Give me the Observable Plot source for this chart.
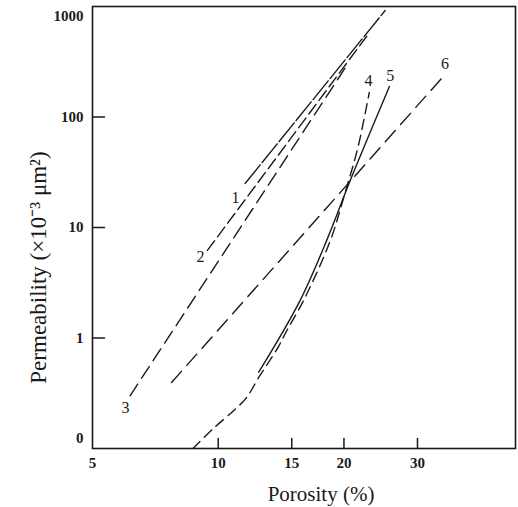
<!DOCTYPE html>
<html><head><meta charset="utf-8">
<script src="https://cdn.jsdelivr.net/npm/d3@7"></script>
<script src="https://cdn.jsdelivr.net/npm/@observablehq/plot@0.6"></script>
<style>body{margin:0;background:#fff} svg{display:block}</style>
</head><body><div id="chart"></div>
<script>
// Curve data: porosity (%) and permeability (x10^-3 um^2)
const porosity1 = [11.6, 25.1];
const permeability1 = [25, 920];
const porosity2 = [9.42, 22.75];
const permeability2 = [6.2, 547];
const porosity3 = [6.15, 20.1];
const permeability3 = [0.30, 275];
const porosity4 = [8.7, 9.74, 10.9, 11.7, 12.5, 13.9, 14.6, 16.0, 18.55, 20.1, 21.6, 23.0];
const permeability4 = [0.1, 0.152, 0.221, 0.29, 0.44, 0.82, 1.17, 2.18, 7.6, 20.3, 53, 167];
const porosity5 = [12.5, 15.7, 18.3, 20.7, 25.7];
const permeability5 = [0.49, 2.18, 8.1, 26.6, 189];
const porosity6 = [7.73, 34.9];
const permeability6 = [0.395, 242];

// Curve labels
const labelIds = ["1", "2", "3", "4", "5", "6"];
const labelPorosity = [11.0, 9.07, 6.0, 22.9, 25.8, 34.9];
const labelPermeability = [18.7, 5.47, 0.235, 214, 237, 305];

// Axis ticks
const xTicks = [5, 10, 15, 20, 30];
const xTickMarks = [10, 15, 20, 30];
const yTicks = [1, 10, 100];
const yBottomLabel = ["0"];
const yTopLabel = ["1000"];

const series = [
  {id: "1", x: porosity1, y: permeability1},
  {id: "2", x: porosity2, y: permeability2},
  {id: "3", x: porosity3, y: permeability3},
  {id: "4", x: porosity4, y: permeability4},
  {id: "5", x: porosity5, y: permeability5},
  {id: "6", x: porosity6, y: permeability6}
];
const dash = {"1": "24,3", "2": "12,5", "3": "14,7", "4": "10,6", "5": null, "6": "15,8"};
const rows = series.flatMap(s => s.x.map((x, i) => ({id: s.id, porosity: x, perm: s.y[i]})));
const labels = labelIds.map((id, i) => ({id, porosity: labelPorosity[i], perm: labelPermeability[i]}));

const tickShape = {draw(context, l) { context.moveTo(0, 0); context.lineTo(0, -l); }};
const font = "Liberation Serif, Times New Roman, serif";
const ink = "#1a1a1a";

const chart = Plot.plot({
  width: 518,
  height: 507,
  marginLeft: 92,
  marginTop: 6,
  marginRight: 3,
  marginBottom: 59,
  style: {fontFamily: font, background: "#fff", color: ink},
  x: {type: "log", domain: [5, 51.5], label: null},
  y: {type: "log", domain: [0.1, 1000], label: null},
  marks: [
    Plot.frame({stroke: ink, strokeWidth: 1.6}),
    ...series.map(s => Plot.line(rows.filter(r => r.id === s.id), {
      x: "porosity", y: "perm", stroke: ink, strokeWidth: 1.4,
      strokeDasharray: dash[s.id], curve: s.x.length > 2 ? "catmull-rom" : "linear"
    })),
    Plot.vector(yTicks, {y: d => d, frameAnchor: "left", length: 12, rotate: 90, anchor: "start", shape: tickShape, stroke: ink, strokeWidth: 1.5}),
    Plot.vector(xTickMarks, {x: d => d, frameAnchor: "bottom", length: 10, rotate: 0, anchor: "start", shape: tickShape, stroke: ink, strokeWidth: 1.5}),
    Plot.axisY(yTicks, {tickSize: 0, tickPadding: 9, tickFormat: d => String(d), fontSize: 15, fontWeight: "bold", label: null}),
    Plot.text(yBottomLabel, {text: d => d, frameAnchor: "bottom-left", dx: -9, dy: -6, textAnchor: "end", fontSize: 15, fontWeight: "bold", fill: ink}),
    Plot.text(yTopLabel, {text: d => d, frameAnchor: "top-left", dx: -9, dy: 4, textAnchor: "end", fontSize: 15, fontWeight: "bold", fill: ink}),
    Plot.axisX(xTicks, {tickSize: 0, tickPadding: 9, tickFormat: d => String(d), fontSize: 15, fontWeight: "bold", label: null}),
    Plot.text(labels, {x: "porosity", y: "perm", text: "id", fontSize: 16, fill: ink}),
    Plot.text(["Porosity (%)"], {text: d => d, frameAnchor: "bottom", textAnchor: "middle", lineAnchor: "middle", dx: 17, dy: 46, fontSize: 21, fill: ink}),
    Plot.text(["Permeability (×10⁻³ μm²)"], {text: d => d, frameAnchor: "left", textAnchor: "middle", lineAnchor: "middle", dx: -54, dy: 40, rotate: -90, fontSize: 23, fill: ink, letterSpacing: "2.5px"})
  ]
});
document.getElementById("chart").appendChild(chart);
</script>
</body></html>
